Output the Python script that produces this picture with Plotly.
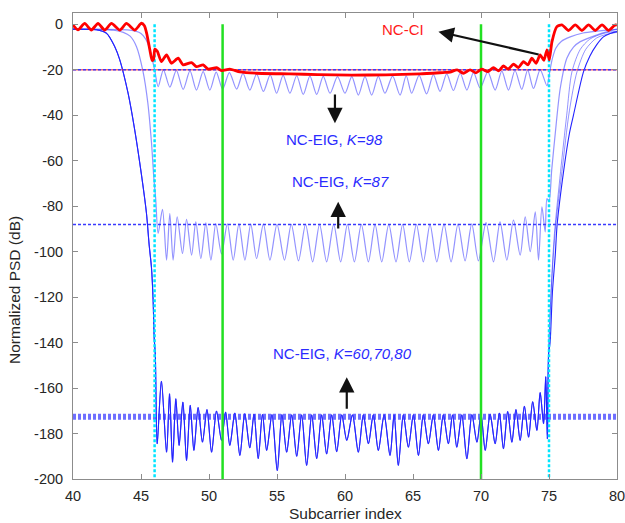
import plotly.graph_objects as go

FONT = "Liberation Sans, Arial, Helvetica, sans-serif"

# ---------------- NC-CI (red) ----------------
nc_ci_x = [40.0, 40.37, 40.86, 41.35, 41.84, 42.33, 42.83, 43.44, 43.93, 44.54, 45.03, 45.25,
           45.42, 45.65, 45.82, 45.92, 46.02, 46.2, 46.5, 46.88, 47.24, 47.73, 48.1, 48.72,
           49.08, 49.57, 49.94, 50.56, 50.92, 51.53, 52.27, 53.5, 55.95, 58.0, 60.5, 63.0,
           65.5, 67.2, 67.73, 68.24, 68.7, 69.2, 69.63, 70.06, 70.5, 70.92, 71.3, 71.65,
           72.0, 72.39, 72.75, 73.12, 73.45, 73.74, 74.05, 74.35, 74.62, 74.85, 75.02, 75.22,
           75.58, 75.95, 76.44, 76.93, 77.42, 77.91, 78.4, 78.9, 79.38, 79.88, 80.0]
nc_ci_db = [-0.3, -2.4, 0.4, -2.5, 0.4, -2.5, 0.4, -2.5, 0.4, -2.5, 0.5, -0.6,
            -4.0, -11.2, -15.9, -15.5, -10.9, -11.8, -16.4, -13.4, -17.1, -14.9, -17.8, -16.8,
            -18.6, -17.8, -19.7, -19.0, -20.3, -19.7, -20.9, -21.5, -21.8, -22.1, -22.3, -22.2,
            -21.8, -21.2, -21.0, -20.0, -21.5, -20.0, -21.3, -19.7, -20.8, -19.0, -20.5, -18.3,
            -19.7, -17.5, -19.0, -16.4, -17.8, -14.9, -17.1, -13.4, -15.8, -11.2, -15.6, -7.6,
            -1.0, -0.2, -2.7, -0.2, -2.7, -0.2, -2.7, -0.2, -2.7, -0.2, -0.4]

# ---------------- NC-EIG, K=98 ----------------
k98_left_x = [40.0, 42.0, 44.0, 44.6, 45.0, 45.35, 45.65, 45.85, 46.02]
k98_left_db = [-2.2, -2.2, -2.4, -3.0, -4.0, -6.5, -11.0, -16.0, -20.5]
k98_band_x = [46.26, 46.65, 47.12, 47.6, 48.1, 48.6, 49.08, 49.57, 50.06, 50.53, 51.0, 51.5,
              52.03, 52.5, 53.0, 53.5, 54.0, 54.5, 54.97, 55.45, 55.95, 56.45, 56.93, 57.42,
              57.92, 58.4, 58.9, 59.45, 60.0, 60.5, 60.98, 61.47, 61.96, 62.45, 62.94, 63.5,
              64.05, 64.5, 64.9, 65.45, 66.0, 66.5, 66.99, 67.48, 67.97, 68.47, 68.96, 69.45,
              69.94, 70.5, 71.04, 71.53, 72.02, 72.5, 73.0, 73.43, 73.86, 74.35, 74.85]
k98_band_db = [-27.4, -20.0, -27.6, -20.2, -28.6, -20.5, -28.9, -20.8, -28.9, -21.0, -28.5, -21.2,
               -28.5, -21.6, -28.9, -21.9, -29.5, -22.2, -30.3, -22.4, -30.3, -22.6, -30.8, -22.8,
               -30.8, -22.9, -30.3, -23.0, -30.3, -23.0, -31.1, -23.0, -31.1, -22.9, -30.3, -22.8,
               -31.1, -22.6, -30.3, -22.4, -30.6, -22.1, -29.5, -21.8, -29.1, -21.5, -28.9, -21.2,
               -28.0, -20.9, -28.9, -20.6, -28.9, -20.3, -28.6, -20.1, -28.2, -20.0, -27.0]
k98_right_x = [75.05, 75.25, 75.5, 75.9, 76.56, 77.5, 78.5, 80.0]
k98_right_db = [-21.0, -15.0, -10.5, -7.5, -5.5, -3.8, -3.0, -2.2]

# ---------------- NC-EIG, K=87 ----------------
k87_left_x = [40.0, 41.0, 42.0, 43.0, 43.7, 44.2, 44.67, 45.15, 45.5, 45.77, 45.95]
k87_left_db = [-2.1, -2.1, -2.2, -2.6, -3.5, -5.2, -9.8, -20.8, -34.5, -52.0, -68.0]
k87_band_x = [46.08, 46.26, 46.58, 46.88, 47.12, 47.36, 47.66, 48.05, 48.35, 48.72, 49.03, 49.4,
              49.77, 50.14, 50.5, 50.92, 51.35, 51.78, 52.2, 52.64, 53.07, 53.5, 54.0, 54.48,
              55.0, 55.55, 56.05, 56.58, 57.1, 57.62, 58.13, 58.65, 59.17, 59.68, 60.18, 60.69,
              61.2, 61.72, 62.21, 62.7, 63.22, 63.75, 64.24, 64.73, 65.25, 65.76, 66.25, 66.75,
              67.28, 67.8, 68.31, 68.83, 69.32, 69.81, 70.37, 70.92, 71.4, 71.9, 72.39, 72.88,
              73.25, 73.62, 73.99, 74.23, 74.48, 74.72, 74.85]
k87_band_db = [-76.6, -92.0, -81.4, -103.7, -83.2, -103.7, -84.7, -100.8, -85.8, -101.5, -86.9, -103.0,
               -87.3, -103.7, -87.6, -101.0, -87.8, -103.7, -87.8, -103.7, -87.9, -103.0, -87.9, -103.7,
               -88.0, -103.7, -88.0, -104.0, -88.0, -104.5, -88.0, -104.5, -88.0, -104.5, -88.0, -104.5,
               -88.0, -104.5, -88.0, -104.5, -88.0, -104.5, -88.0, -104.5, -88.0, -104.5, -88.0, -104.5,
               -87.9, -104.5, -87.9, -104.0, -87.8, -104.0, -87.2, -104.5, -86.9, -103.7, -86.1, -101.5,
               -84.7, -100.0, -82.5, -103.7, -80.3, -91.3, -76.6]
k87_right_x = [75.0, 75.2, 75.46, 75.83, 76.32, 76.8, 77.3, 78.5, 79.3, 80.0]
k87_right_db = [-78.0, -64.0, -48.0, -28.0, -14.8, -10.0, -7.6, -4.7, -3.2, -2.1]

# ---------------- NC-EIG, K=60,70,80 ----------------
k60_left_x = [40.0, 41.0, 41.72, 42.46, 43.07, 43.44, 44.05, 44.54, 45.03, 45.4, 45.6, 45.77,
              45.89, 45.97]
k60_left_db = [-2.1, -2.2, -2.4, -3.9, -9.8, -15.6, -30.3, -46.5, -66.0, -83.0, -97.0, -107.0,
               -121.0, -138.0]
k60_band_x = [46.05, 46.19, 46.5, 46.88, 47.1, 47.32, 47.56, 47.8, 48.08, 48.35, 48.62, 48.89,
              49.2, 49.52, 49.85, 50.19, 50.55, 50.92, 51.22, 51.53, 51.9, 52.27, 52.63, 53.0,
              53.31, 53.62, 53.93, 54.24, 54.63, 55.02, 55.36, 55.71, 56.08, 56.45, 56.81, 57.18,
              57.55, 57.92, 58.28, 58.65, 59.02, 59.39, 59.76, 60.13, 60.55, 60.98, 61.35, 61.72,
              62.08, 62.45, 62.88, 63.31, 63.61, 63.92, 64.29, 64.66, 65.03, 65.4, 65.76, 66.13,
              66.5, 66.87, 67.23, 67.6, 67.91, 68.22, 68.59, 68.96, 69.33, 69.7, 70.0, 70.31,
              70.67, 71.04, 71.35, 71.65, 71.96, 72.27, 72.57, 72.88, 73.19, 73.5, 73.8, 74.11,
              74.35, 74.6, 74.76, 74.88, 74.97]
k60_band_db = [-145.0, -184.5, -157.0, -188.2, -162.5, -192.6, -164.7, -185.2, -166.2, -191.9, -167.6, -187.4,
               -168.6, -183.8, -169.5, -188.2, -170.1, -183.0, -170.6, -185.2, -171.0, -189.6, -171.3, -186.3,
               -171.5, -191.0, -171.6, -187.4, -171.7, -196.3, -171.7, -188.2, -171.8, -190.0, -171.8, -194.0,
               -171.8, -191.0, -171.8, -189.0, -171.8, -188.0, -171.8, -183.0, -171.8, -188.2, -171.8, -184.5,
               -171.8, -187.4, -171.8, -189.6, -171.8, -194.0, -171.8, -186.0, -171.8, -189.6, -171.8, -184.5,
               -171.8, -187.4, -171.8, -184.5, -171.8, -186.0, -171.8, -191.1, -171.7, -183.8, -171.6, -187.4,
               -171.5, -184.5, -171.0, -186.7, -170.3, -183.8, -169.5, -183.0, -168.0, -181.6, -166.0, -178.6,
               -162.0, -175.7, -155.0, -182.3, -145.0]
k60_right_x = [75.08, 75.25, 75.46, 75.6, 76.07, 76.5, 76.8, 77.54, 78.0, 78.5, 79.0, 79.5, 80.0]
k60_right_db = [-140.0, -118.0, -101.5, -88.0, -64.8, -48.0, -39.9, -20.8, -14.0, -9.0, -5.5, -4.0, -3.2]
k70_right_x = [75.2, 75.4, 75.85, 76.3, 76.69, 77.3, 78.0, 79.0, 80.0]
k70_right_db = [-112.0, -92.0, -64.8, -40.0, -20.8, -11.0, -6.5, -4.0, -3.0]
k80_right_x = [75.25, 75.5, 75.95, 76.5, 77.06, 77.7, 78.5, 79.3, 80.0]
k80_right_db = [-108.0, -88.0, -64.8, -38.0, -20.8, -11.0, -6.0, -4.3, -3.5]

# Horizontal reference levels (dB) and vertical markers (subcarrier index)
level_k98 = -20
level_k87 = -88
level_k60 = -172.6
band_edges = [46, 75]
inner_marks = [51, 70]
x_span = [40, 80]

x_ticks = [40, 45, 50, 55, 60, 65, 70, 75, 80]
y_ticks = [0, -20, -40, -60, -80, -100, -120, -140, -160, -180, -200]
y_tick_text = ["0", "-20", "-40", "-60", "-80", "-100", "-120", "-140", "-160", "-180", "-200"]

BLUE = "#2222ff"
LIGHT_BLUE = "rgba(40,40,255,0.5)"
DOT_BLUE = "#3a3aff"

fig = go.Figure()


def curve(x, y, color, width, smooth=0.8):
    fig.add_trace(go.Scatter(x=x, y=y, mode="lines", showlegend=False, hoverinfo="skip",
                             line=dict(color=color, width=width, shape="spline", smoothing=smooth)))


# Roll-off curves for K=70 and K=80 (they share the K=60 in-band ripple)
curve(k60_left_x + k60_band_x + k70_right_x, k60_left_db + k60_band_db + k70_right_db, LIGHT_BLUE, 1.0)
curve(k60_left_x + k60_band_x + k80_right_x, k60_left_db + k60_band_db + k80_right_db, LIGHT_BLUE, 1.0)
# K=60
curve(k60_left_x + k60_band_x + k60_right_x, k60_left_db + k60_band_db + k60_right_db, BLUE, 1.1)
# K=87
curve(k87_left_x + k87_band_x + k87_right_x, k87_left_db + k87_band_db + k87_right_db, LIGHT_BLUE, 1.2)
# K=98
curve(k98_left_x + k98_band_x + k98_right_x, k98_left_db + k98_band_db + k98_right_db, LIGHT_BLUE, 1.2)

# Reference levels
fig.add_trace(go.Scatter(x=x_span, y=[level_k60] * 2, mode="lines", showlegend=False, hoverinfo="skip",
                         line=dict(color="rgba(50,50,255,0.7)", width=6, dash="3px,2px")))
fig.add_trace(go.Scatter(x=x_span, y=[level_k87] * 2, mode="lines", showlegend=False, hoverinfo="skip",
                         line=dict(color=DOT_BLUE, width=1.5, dash="3px,2px")))
fig.add_trace(go.Scatter(x=x_span, y=[level_k98] * 2, mode="lines", showlegend=False, hoverinfo="skip",
                         line=dict(color="#ff2020", width=1)))
fig.add_trace(go.Scatter(x=x_span, y=[level_k98] * 2, mode="lines", showlegend=False, hoverinfo="skip",
                         line=dict(color=DOT_BLUE, width=1.5, dash="3px,2px")))

# Vertical markers
for xv in inner_marks:
    fig.add_trace(go.Scatter(x=[xv, xv], y=[0, -200], mode="lines", showlegend=False, hoverinfo="skip",
                             line=dict(color="#22e022", width=2.5)))
for xv in band_edges:
    fig.add_trace(go.Scatter(x=[xv, xv], y=[0, -200], mode="lines", showlegend=False, hoverinfo="skip",
                             line=dict(color="#00e5ff", width=2.5, dash="3px,2px")))

# NC-CI on top
curve(nc_ci_x, nc_ci_db, "#ff0000", 2.8, smooth=0.6)

# Labels and arrows
ann = []
txt = dict(family=FONT, size=15)
ann.append(dict(x=64.3, y=-2.2, text="NC-CI", showarrow=False, font=dict(txt, color="#ff1a1a")))
ann.append(dict(x=59.2, y=-50.6, text="NC-EIG, <i>K=98</i>", showarrow=False, font=dict(txt, color="#2b2bff")))
ann.append(dict(x=59.64, y=-69, text="NC-EIG, <i>K=87</i>", showarrow=False, font=dict(txt, color="#2b2bff")))
ann.append(dict(x=59.8, y=-144.8, text="NC-EIG, <i>K=60,70,80</i>", showarrow=False,
                font=dict(txt, color="#2b2bff")))

arrows = [((66.87, -3.2), (74.35, -13.4)),
          ((59.26, -43.5), (59.26, -30.2)),
          ((59.5, -78.0), (59.5, -90.5)),
          ((60.13, -155.2), (60.13, -169.8))]
for (hx, hy), (tx, ty) in arrows:
    ann.append(dict(x=hx, y=hy, ax=tx, ay=ty, axref="x", ayref="y", xref="x", yref="y", text="",
                    showarrow=True, arrowhead=2, arrowsize=1.4, arrowwidth=2.2, arrowcolor="#111111",
                    standoff=0, startstandoff=0))

ann.append(dict(xref="paper", yref="paper", x=-0.1066, y=0.4056, text="Normalized PSD (dB)",
                textangle=-90, showarrow=False, xanchor="center", yanchor="middle",
                font=dict(family=FONT, size=15.5, color="#262626")))
ann.append(dict(xref="paper", yref="paper", x=0.5, y=-0.0751, text="Subcarrier index",
                showarrow=False, xanchor="center", yanchor="middle",
                font=dict(family=FONT, size=15.5, color="#262626")))

axis_common = dict(showgrid=False, zeroline=False, showline=True, linecolor="#8c8c8c", linewidth=1,
                   mirror="allticks", ticks="inside", ticklen=5, tickcolor="#8c8c8c",
                   ticklabeloverflow="allow", automargin=False,
                   tickfont=dict(family=FONT, size=14.5, color="#262626"))

fig.update_layout(
    width=625, height=523,
    margin=dict(l=73, r=8, t=13, b=44),
    paper_bgcolor="white", plot_bgcolor="white",
    xaxis=dict(axis_common, range=[40, 80], tickmode="array", tickvals=x_ticks, ticklabelstandoff=4),
    yaxis=dict(axis_common, range=[-200, 5], tickmode="array", tickvals=y_ticks, ticktext=y_tick_text,
               ticklabelstandoff=6),
    annotations=ann,
    font=dict(family=FONT),
)

fig.write_html("out.html")
